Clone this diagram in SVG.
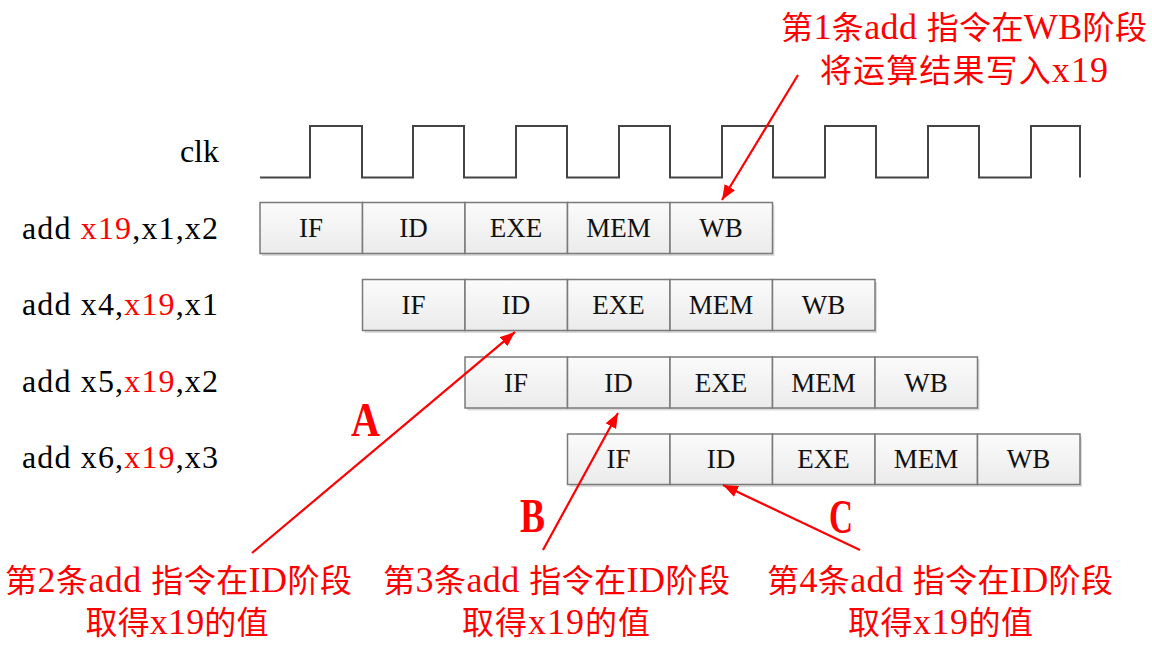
<svg xmlns="http://www.w3.org/2000/svg" width="1152" height="650" viewBox="0 0 1152 650">
<style>
.lbl{font-family:"Liberation Serif","Noto Sans CJK SC",serif;font-size:32px;fill:#000}
.red{fill:#ff0000}
.cell{fill:url(#g);stroke:#7a7a7a;stroke-width:1.5}
.shadow{fill:#dcdcdc}
.ct{font-family:"Liberation Serif",serif;font-size:27px;fill:#111;text-anchor:middle}
.note{font-family:"Liberation Serif","Noto Sans CJK SC",sans-serif;font-size:32px;fill:#ff0000;text-anchor:middle}
.lat{font-size:36px}
.big{font-family:"Liberation Serif",serif;font-weight:bold;font-size:48px;fill:#ff0000}
.arr{stroke:#ff0000;stroke-width:2.2;fill:none;marker-end:url(#ah)}
.clk{stroke:#444;stroke-width:2;fill:none}
</style>
<defs>
<linearGradient id="g" x1="0" y1="0" x2="0" y2="1">
<stop offset="0" stop-color="#fbfbfb"/>
<stop offset="1" stop-color="#ebebeb"/>
</linearGradient>
<marker id="ah" markerUnits="userSpaceOnUse" markerWidth="16" markerHeight="14" refX="15" refY="6" orient="auto">
<path d="M0,0 L15,6 L0,12 Z" fill="#ff0000"/>
</marker>
</defs>
<rect width="1152" height="650" fill="#fff"/>

<g id="clock">
<text class="lbl" x="219" y="162" text-anchor="end">clk</text>
<path class="clk" d="M260,177.5 H310 V126 H362 V177.5 H413 V126 H464 V177.5 H516 V126 H567 V177.5 H619 V126 H670 V177.5 H722 V126 H773 V177.5 H825 V126 H876 V177.5 H928 V126 H979 V177.5 H1031 V126 H1080 V177.5"/>
</g>

<g id="label1"><text class="lbl" x="22" y="239" textLength="196" lengthAdjust="spacing">add <tspan class="red">x19</tspan>,x1,x2</text></g>
<g id="label2"><text class="lbl" x="22" y="315" textLength="196" lengthAdjust="spacing">add x4,<tspan class="red">x19</tspan>,x1</text></g>
<g id="label3"><text class="lbl" x="22" y="392" textLength="196" lengthAdjust="spacing">add x5,<tspan class="red">x19</tspan>,x2</text></g>
<g id="label4"><text class="lbl" x="22" y="468" textLength="196" lengthAdjust="spacing">add x6,<tspan class="red">x19</tspan>,x3</text></g>

<g id="row1">
<rect class="shadow" x="262" y="205" width="512.5" height="51"/>
<rect class="cell" x="260" y="202.5" width="102.5" height="51"/>
<rect class="cell" x="362.5" y="202.5" width="102.5" height="51"/>
<rect class="cell" x="465" y="202.5" width="102.5" height="51"/>
<rect class="cell" x="567.5" y="202.5" width="102.5" height="51"/>
<rect class="cell" x="670" y="202.5" width="102.5" height="51"/>
<text class="ct" x="311" y="237">IF</text>
<text class="ct" x="413.5" y="237">ID</text>
<text class="ct" x="516" y="237">EXE</text>
<text class="ct" x="618.5" y="237">MEM</text>
<text class="ct" x="721" y="237">WB</text>
</g>

<g id="row2">
<rect class="shadow" x="364.5" y="282" width="512.5" height="51"/>
<rect class="cell" x="362.5" y="279.5" width="102.5" height="51"/>
<rect class="cell" x="465" y="279.5" width="102.5" height="51"/>
<rect class="cell" x="567.5" y="279.5" width="102.5" height="51"/>
<rect class="cell" x="670" y="279.5" width="102.5" height="51"/>
<rect class="cell" x="772.5" y="279.5" width="102.5" height="51"/>
<text class="ct" x="413.5" y="314">IF</text>
<text class="ct" x="516" y="314">ID</text>
<text class="ct" x="618.5" y="314">EXE</text>
<text class="ct" x="721" y="314">MEM</text>
<text class="ct" x="823.5" y="314">WB</text>
</g>

<g id="row3">
<rect class="shadow" x="467" y="359.5" width="512.5" height="51"/>
<rect class="cell" x="465" y="357" width="102.5" height="51"/>
<rect class="cell" x="567.5" y="357" width="102.5" height="51"/>
<rect class="cell" x="670" y="357" width="102.5" height="51"/>
<rect class="cell" x="772.5" y="357" width="102.5" height="51"/>
<rect class="cell" x="875" y="357" width="102.5" height="51"/>
<text class="ct" x="516" y="391.5">IF</text>
<text class="ct" x="618.5" y="391.5">ID</text>
<text class="ct" x="721" y="391.5">EXE</text>
<text class="ct" x="823.5" y="391.5">MEM</text>
<text class="ct" x="926" y="391.5">WB</text>
</g>

<g id="row4">
<rect class="shadow" x="569.5" y="436.5" width="512.5" height="50.5"/>
<rect class="cell" x="567.5" y="434" width="102.5" height="50.5"/>
<rect class="cell" x="670" y="434" width="102.5" height="50.5"/>
<rect class="cell" x="772.5" y="434" width="102.5" height="50.5"/>
<rect class="cell" x="875" y="434" width="102.5" height="50.5"/>
<rect class="cell" x="977.5" y="434" width="102.5" height="50.5"/>
<text class="ct" x="618.5" y="468">IF</text>
<text class="ct" x="721" y="468">ID</text>
<text class="ct" x="823.5" y="468">EXE</text>
<text class="ct" x="926" y="468">MEM</text>
<text class="ct" x="1028.5" y="468">WB</text>
</g>

<g id="connectors">
<line class="arr" x1="798" y1="75" x2="722" y2="200"/>
<line class="arr" x1="252" y1="553" x2="515" y2="332"/>
<line class="arr" x1="543" y1="550" x2="618" y2="413"/>
<line class="arr" x1="860" y1="550" x2="723" y2="485"/>
</g>

<g id="note-wb">
<text class="note" x="964" y="39" textLength="366" lengthAdjust="spacing">第<tspan class="lat">1</tspan>条<tspan class="lat">add </tspan>指令在<tspan class="lat">WB</tspan>阶段</text>
<text class="note" x="964" y="82" textLength="288" lengthAdjust="spacing">将运算结果写入<tspan class="lat">x19</tspan></text>
</g>
<g id="note-a">
<text class="big" x="351" y="436" textLength="29" lengthAdjust="spacingAndGlyphs">A</text>
<text class="note" x="178.5" y="592" textLength="347" lengthAdjust="spacing">第<tspan class="lat">2</tspan>条<tspan class="lat">add </tspan>指令在<tspan class="lat">ID</tspan>阶段</text>
<text class="note" x="177" y="634" textLength="183" lengthAdjust="spacing">取得<tspan class="lat">x19</tspan>的值</text>
</g>
<g id="note-b">
<text class="big" x="520" y="532" textLength="25" lengthAdjust="spacingAndGlyphs">B</text>
<text class="note" x="556.5" y="592" textLength="347" lengthAdjust="spacing">第<tspan class="lat">3</tspan>条<tspan class="lat">add </tspan>指令在<tspan class="lat">ID</tspan>阶段</text>
<text class="note" x="556" y="634" textLength="188" lengthAdjust="spacing">取得<tspan class="lat">x19</tspan>的值</text>
</g>
<g id="note-c">
<text class="big" x="829" y="533" textLength="24" lengthAdjust="spacingAndGlyphs">C</text>
<text class="note" x="940" y="592" textLength="346" lengthAdjust="spacing">第<tspan class="lat">4</tspan>条<tspan class="lat">add </tspan>指令在<tspan class="lat">ID</tspan>阶段</text>
<text class="note" x="940.5" y="634" textLength="185" lengthAdjust="spacing">取得<tspan class="lat">x19</tspan>的值</text>
</g>
</svg>
